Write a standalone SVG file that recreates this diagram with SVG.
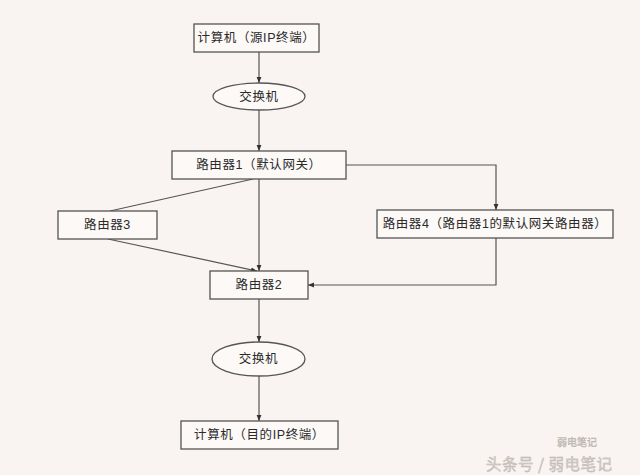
<svg xmlns="http://www.w3.org/2000/svg" width="640" height="475" viewBox="0 0 640 475">
<defs>
<style>
.node{fill:#fcf9f7;stroke:#555;stroke-width:1.3}
.lbl{font-family:"Liberation Sans","Noto Sans CJK SC",sans-serif;font-size:12.5px;fill:#2a2a2a;text-anchor:middle;dominant-baseline:central;letter-spacing:0.6px}
.conn{fill:none;stroke:#555;stroke-width:1.2}
.wm{font-family:"Noto Sans CJK SC",sans-serif;fill:#d6d0cc;stroke:#b8b2ae;stroke-width:0.4}
</style>
<marker id="arr" viewBox="0 0 10 10" refX="10" refY="5" markerWidth="6" markerHeight="6" orient="auto" markerUnits="userSpaceOnUse">
<path d="M0,1 L10,5 L0,9 Z" fill="#333"/>
</marker>
</defs>
<rect x="0" y="0" width="640" height="475" fill="#f9f4f1"/>
<g id="connectors">
<line class="conn" x1="259" y1="52" x2="259" y2="83" marker-end="url(#arr)"/>
<line class="conn" x1="259" y1="110" x2="259" y2="151" marker-end="url(#arr)"/>
<line class="conn" x1="259" y1="179" x2="259" y2="271" marker-end="url(#arr)"/>
<line class="conn" x1="253" y1="179" x2="110" y2="211"/>
<line class="conn" x1="108" y1="239" x2="257" y2="271" marker-end="url(#arr)"/>
<polyline class="conn" points="346,165 496,165 496,210" marker-end="url(#arr)"/>
<polyline class="conn" points="496,238 496,285 308,285" marker-end="url(#arr)"/>
<line class="conn" x1="259" y1="299" x2="259" y2="342" marker-end="url(#arr)"/>
<line class="conn" x1="259" y1="376" x2="259" y2="421" marker-end="url(#arr)"/>
</g>
<g id="src-pc">
<rect class="node" x="194" y="24" width="125" height="28"/>
<text class="lbl" x="256.5" y="38">计算机（源IP终端）</text>
</g>
<g id="switch1">
<ellipse class="node" cx="259" cy="96.5" rx="46" ry="13.5"/>
<text class="lbl" x="259" y="96.5">交换机</text>
</g>
<g id="router1">
<rect class="node" x="172" y="151" width="174" height="28"/>
<text class="lbl" x="259" y="165">路由器1（默认网关）</text>
</g>
<g id="router3">
<rect class="node" x="58" y="211" width="99" height="28"/>
<text class="lbl" x="107.5" y="225">路由器3</text>
</g>
<g id="router4">
<rect class="node" x="377" y="210" width="236" height="28"/>
<text class="lbl" x="495" y="224">路由器4（路由器1的默认网关路由器）</text>
</g>
<g id="router2">
<rect class="node" x="210" y="271" width="98" height="28"/>
<text class="lbl" x="259" y="285">路由器2</text>
</g>
<g id="switch2">
<ellipse class="node" cx="258.5" cy="359" rx="46.5" ry="17"/>
<text class="lbl" x="258.5" y="359">交换机</text>
</g>
<g id="dst-pc">
<rect class="node" x="181" y="421" width="157" height="28"/>
<text class="lbl" x="259.5" y="435">计算机（目的IP终端）</text>
</g>
<g id="watermark">
<text class="wm" x="557" y="446" font-size="10">弱电笔记</text>
<text class="wm" x="486" y="470" font-size="15.5" letter-spacing="0.5">头条号 / 弱电笔记</text>
</g>
</svg>
